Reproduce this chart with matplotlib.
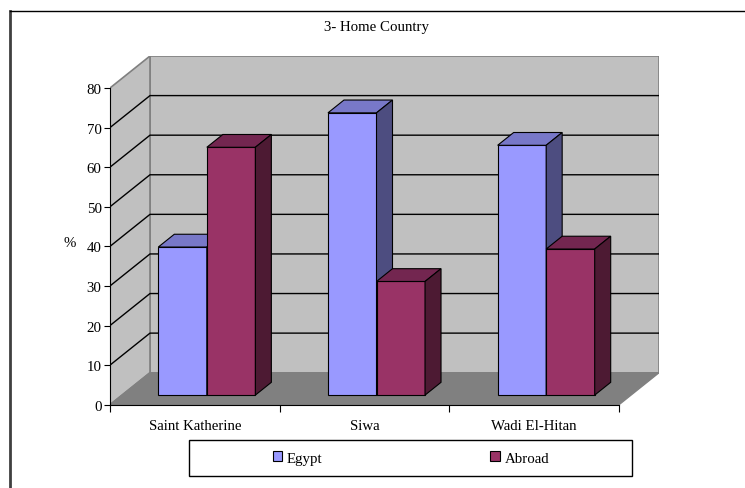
import matplotlib.pyplot as plt
from matplotlib.patches import Polygon, Rectangle, Patch
from matplotlib.lines import Line2D

sites = ["Saint Katherine", "Siwa", "Wadi El-Hitan"]
egypt = [37.4, 71.3, 63.1]
abroad = [62.6, 28.7, 36.9]
series = ["Egypt", "Abroad"]
yticks = [0, 10, 20, 30, 40, 50, 60, 70, 80]

plt.rcParams["font.family"] = ["Liberation Serif", "DejaVu Serif"]
FS = 10.7

W, H = 745, 489
fig = plt.figure(figsize=(W / 100, H / 100), dpi=100)
ax = fig.add_axes([110 / W, (H - 405.7) / H, 549 / W, (405.7 - 57) / H])
ax.patch.set_visible(False)

# oblique depth of the walls, in data units
DX, DY = 0.2357, 8.08
ymax = yticks[-1]
x0, x1 = -0.5, len(sites) - 0.5
ax.set_xlim(x0, x1 + DX)
ax.set_ylim(0, ymax + DY)

# walls and floor
ax.add_patch(Polygon([(x0 + DX, DY), (x1 + DX, DY), (x1 + DX, ymax + DY), (x0 + DX, ymax + DY)],
                     fc="#c0c0c0", ec="#808080", lw=1.2, zorder=0))
ax.add_patch(Polygon([(x0, 0), (x0 + DX, DY), (x0 + DX, ymax + DY), (x0, ymax)],
                     fc="#c0c0c0", ec="#808080", lw=1.2, zorder=0))
ax.add_patch(Polygon([(x0, 0), (x1, 0), (x1 + DX, DY), (x0 + DX, DY)],
                     fc="#808080", ec="#808080", lw=1, zorder=0))
for t in yticks[1:-1]:
    ax.plot([x0, x0 + DX, x1 + DX], [t, t + DY, t + DY], color="black", lw=1, zorder=0.5)

# 3d bars
bw, d0, bd = 0.286, 0.30, 0.40
colors = {"Egypt": ("#9999ff", "#7878c8", "#4d4d80"),
          "Abroad": ("#993366", "#732650", "#4d1a33")}
data = {"Egypt": egypt, "Abroad": abroad}
for i in range(len(sites)):
    for j, name in enumerate(series):
        front, top, side = colors[name]
        v = data[name][i]
        xl = i - bw + j * bw + d0 * DX
        yb = d0 * DY
        ex, ey = bd * DX, bd * DY
        ax.bar(xl, v, width=bw, bottom=yb, align="edge", color=front, edgecolor="black", lw=0.8)
        ax.add_patch(Polygon([(xl, yb + v), (xl + bw, yb + v), (xl + bw + ex, yb + v + ey), (xl + ex, yb + v + ey)],
                             fc=top, ec="black", lw=0.8))
        ax.add_patch(Polygon([(xl + bw, yb), (xl + bw + ex, yb + ey), (xl + bw + ex, yb + v + ey), (xl + bw, yb + v)],
                             fc=side, ec="black", lw=0.8))

# axes
for s in ["top", "right"]:
    ax.spines[s].set_visible(False)
ax.spines["left"].set_bounds(0, ymax)
ax.spines["bottom"].set_bounds(x0, x1)
ax.set_yticks(yticks)
ax.tick_params(axis="y", direction="out", length=4, pad=2, labelsize=FS)
ax.set_xticks([x0 + k for k in range(len(sites) + 1)])
ax.set_xticklabels([])
ax.set_xticks(range(len(sites)), minor=True)
ax.set_xticklabels(sites, minor=True, fontsize=FS)
ax.tick_params(axis="x", which="major", direction="out", length=5)
ax.tick_params(axis="x", which="minor", length=0, pad=10)
ax.set_ylabel("%", rotation=0, fontsize=FS, va="center", ha="center")
ax.yaxis.set_label_coords(-0.073, 0.464)

fig.text(376 / W, 1 - 28 / H, "3- Home Country", ha="center", va="center", fontsize=FS)

# chart frame
fig.add_artist(Line2D([10 / W, 10 / W], [0, 1 - 12 / H], color="#404040", lw=2))
fig.add_artist(Line2D([10 / W, 1], [1 - 12 / H, 1 - 12 / H], color="black", lw=1))

# legend
fig.add_artist(Rectangle((189 / W, 1 - 477 / H), (632 - 189) / W, 36 / H, transform=fig.transFigure,
                         fill=False, ec="black", lw=1))
handles = [Patch(fc=colors[n][0], ec="black", lw=0.8, label=n) for n in series]
fig.legend(handles=handles, loc="center", bbox_to_anchor=(411 / W, 1 - 459 / H), ncol=2,
           frameon=False, fontsize=FS, handlelength=0.65, handleheight=0.65,
           handletextpad=0.3, columnspacing=11.3)

fig.savefig("out.png", dpi=100)
